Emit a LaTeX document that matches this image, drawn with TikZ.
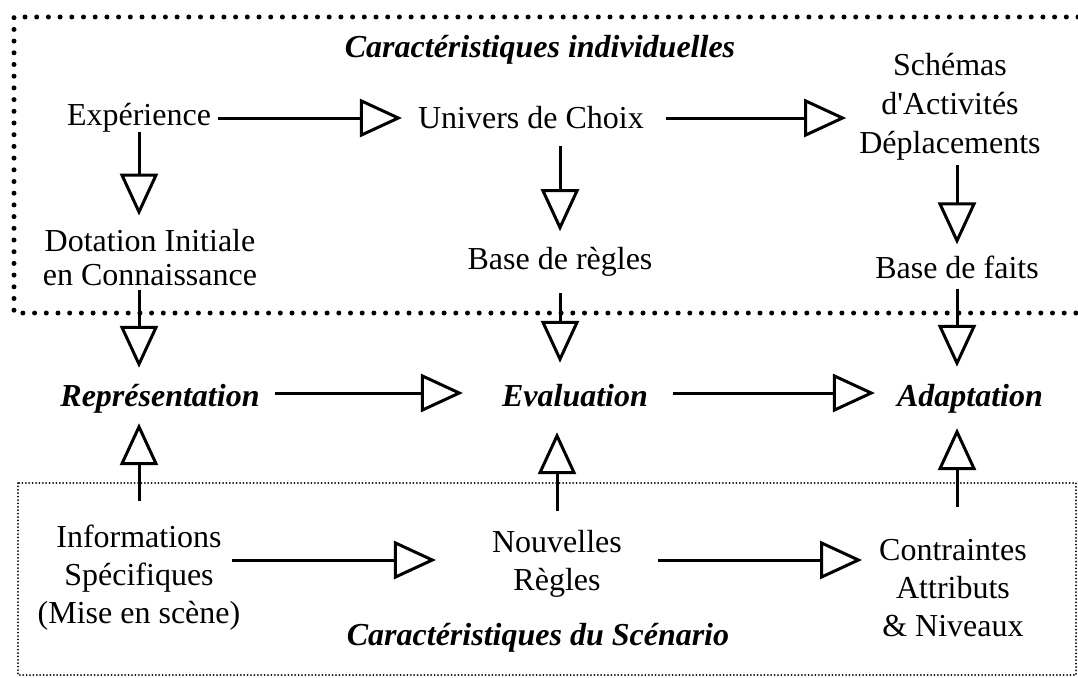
\documentclass[tikz,border=0pt]{standalone}
\usepackage{fontspec}
\setmainfont{Liberation Serif}
\usetikzlibrary{arrows.meta, positioning}

\tikzset{
  lbl/.style={align=center, inner sep=4pt, font=\fontsize{32}{38}\selectfont},
  key/.style={lbl, text height=32pt, text depth=6pt, font=\fontsize{32}{38}\selectfont\bfseries\itshape},
  flow/.style={-{Triangle[open, length=42pt, width=38pt]}, line width=3pt},
  bigdots/.style={line width=5pt, line cap=round, dash pattern=on 0pt off 11.7pt},
  smalldots/.style={line width=2pt, line cap=round, dash pattern=on 0pt off 3.4pt},
}

\begin{document}
\begin{tikzpicture}[x=1pt, y=-1pt]
  \useasboundingbox (0,0) rectangle (1078,677);
  % frames
  \draw[bigdots] (1078,17) -- (14,17) -- (14,313) -- (1078,313);
  \draw[smalldots] (18,483) rectangle (1076,675);

  % individual characteristics
  \node[key, text height=, text depth=] (titleI) at (540,50) {Caractéristiques individuelles};
  \node[lbl] (exp) at (139,118) {Expérience};
  \node[lbl] (univ) at (531,118) {Univers de Choix};
  \node[lbl, font=\fontsize{32}{39}\selectfont] (schem) at (950,107) {Schémas\\d\textquotesingle Activités\\Déplacements};
  \node[lbl, font=\fontsize{32}{34}\selectfont] (dot) at (150,258) {Dotation Initiale\\en Connaissance};
  \node[lbl] (regles) at (560,262) {Base de règles};
  \node[lbl] (faits) at (957,267) {Base de faits};

  % middle row
  \node[key] (repr) at (160,393) {Représentation};
  \node[key] (eval) at (575,393) {Evaluation};
  \node[key] (adapt) at (970,393) {Adaptation};

  % scenario
  \node[lbl] (info) at (139,578) {Informations\\Spécifiques\\(Mise en scène)};
  \node[lbl] (nouv) at (557,564) {Nouvelles\\Règles};
  \node[lbl] (contr) at (953,588) {Contraintes\\Attributs\\\& Niveaux};
  \node[key, text height=, text depth=] (titleS) at (538,638) {Caractéristiques du Scénario};

  % connectors, top frame
  \draw[flow, shorten <=3pt, shorten >=12pt] (exp.east) -- (univ.west);
  \draw[flow, shorten <=18pt, shorten >=9pt] (univ.east) -- (univ.east -| schem.west);
  \draw[flow, shorten <=-5pt, shorten >=10pt] (exp.south) -- (exp.south |- dot.north);
  \draw[flow, shorten <=13pt, shorten >=12pt] (regles.north |- univ.south) -- (regles.north);
  \draw[flow, shorten >=7pt] (faits.north |- schem.south) -- (faits.north);
  % down into the middle row
  \draw[flow, shorten >=2pt] (dot.south -| exp.south) -- (repr.north -| exp.south);
  \draw[flow, shorten <=12pt, shorten >=7pt] (regles.south) -- (regles.south |- eval.north);
  \draw[flow, shorten <=6pt, shorten >=3pt] (faits.south) -- (faits.south |- adapt.north);
  \draw[flow, shorten <=11pt, shorten >=35pt] (repr.east) -- (eval.west);
  \draw[flow, shorten <=21pt, shorten >=18pt] (eval.east) -- (adapt.west);
  % up from the scenario
  \draw[flow, shorten <=20pt, shorten >=7pt] (info.north) -- (info.north |- repr.south);
  \draw[flow, shorten <=15pt, shorten >=16pt] (nouv.north) -- (nouv.north |- eval.south);
  \draw[flow, shorten <=28pt, shorten >=12pt] (contr.north -| faits) -- (adapt.south -| faits);
  \draw[flow, transform canvas={yshift=4pt}, shorten <=-12pt, shorten >=52pt] (info.east |- nouv.west) -- (nouv.west);
  \draw[flow, transform canvas={yshift=4pt}, shorten <=32pt, shorten >=13pt] (nouv.east) -- (nouv.east -| contr.west);
\end{tikzpicture}
\end{document}
